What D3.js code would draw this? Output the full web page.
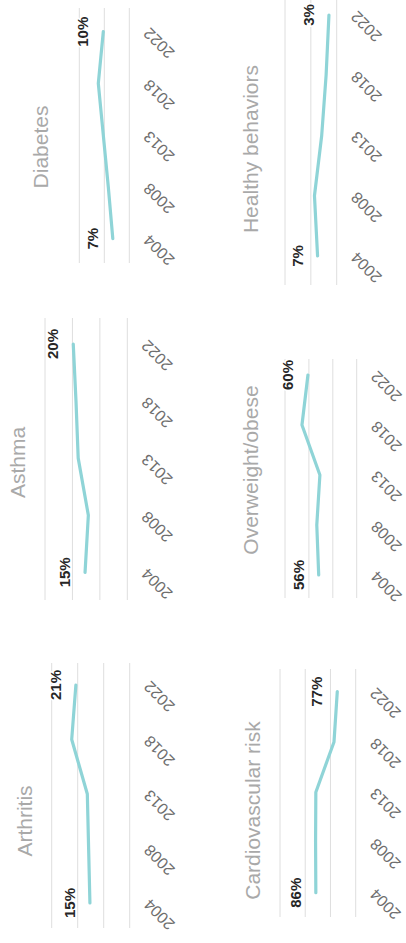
<!DOCTYPE html>
<html>
<head>
<meta charset="utf-8">
<script src="https://cdn.jsdelivr.net/npm/d3@7"></script>
<style>
  html, body { margin: 0; padding: 0; background: #ffffff; }
  svg { display: block; }
</style>
</head>
<body>
<div id="chart"></div>
<script>
// Small multiples of health indicators, drawn sideways (page is rotated -90deg)

// Data
const years = ["2004", "2008", "2013", "2018", "2022"];
const titles = ["Arthritis", "Asthma", "Diabetes", "Cardiovascular risk", "Overweight/obese", "Healthy behaviors"];

const arthritis = [15.3, 15.8, 16.3, 22.3, 20.7];
const asthma = [15.4, 14.2, 17.9, 18.7, 19.7];
const diabetes = [6.6, 8.4, 10.4, 12.4, 10.4];
const cardio = [85.8, 85.9, 85.8, 78.6, 77.3];
const overweight = [55.9, 56.7, 55.4, 62.9, 60.4];
const healthy = [7.4, 8.6, 5.8, 4.1, 3.0];

const series = [arthritis, asthma, diabetes, cardio, overweight, healthy];

const gridTicks = [
  [0, 10, 20, 30],
  [0, 10, 20, 30],
  [0, 10, 20],
  [70, 80, 90, 100],
  [40, 50, 60, 70],
  [0, 10, 20]
];

// Layout (in the unrotated 943 x 406 frame)
const W = 943;
const H = 406;

const layout = [
  { gx: [15, 280], px: [40, 258], py: [129.7, 51.7], tx: 122, ty: 32 },
  { gx: [343, 625], px: [370.7, 599], py: [127.3, 45], tx: 480.5, ty: 25 },
  { gx: [680, 935], px: [704.3, 911.3], py: [129.3, 79.3], tx: 796, ty: 48 },
  { gx: [26, 274], px: [50.3, 251.3], py: [355.7, 280], tx: 132.5, ty: 260 },
  { gx: [345, 584], px: [368, 568], py: [356.7, 285], tx: 473, ty: 258 },
  { gx: [658, 960], px: [687, 928], py: [336.7, 285], tx: 794, ty: 258 }
];

const lineColor = "#8fd4d7";
const gridColor = "#dedede";
const font = "'Liberation Sans', Arial, Helvetica, sans-serif";

const svg = d3.select("#chart")
  .append("svg")
  .attr("width", H)
  .attr("height", W);

const root = svg.append("g")
  .attr("transform", `translate(0,${W}) rotate(-90)`);

function drawPanel(i) {
  const lay = layout[i];
  const values = series[i];
  const ticks = gridTicks[i];

  const x = d3.scalePoint()
    .domain(years)
    .range(lay.px);

  const y = d3.scaleLinear()
    .domain([ticks[0], ticks[ticks.length - 1]])
    .range(lay.py);

  const g = root.append("g");

  // Gridlines
  g.selectAll("line.grid")
    .data(ticks)
    .enter()
    .append("line")
    .attr("class", "grid")
    .attr("x1", lay.gx[0])
    .attr("x2", lay.gx[1])
    .attr("y1", d => y(d))
    .attr("y2", d => y(d))
    .attr("stroke", gridColor)
    .attr("stroke-width", 1);

  // Title
  g.append("text")
    .attr("x", lay.tx)
    .attr("y", lay.ty)
    .attr("text-anchor", "middle")
    .attr("font-family", font)
    .attr("font-size", "21px")
    .attr("fill", "#a9a9a9")
    .text(titles[i]);

  // Year labels
  g.selectAll("text.year")
    .data(years)
    .enter()
    .append("text")
    .attr("class", "year")
    .attr("transform", d => `translate(${x(d) + 5},${lay.py[0] + 21}) rotate(-45)`)
    .attr("text-anchor", "end")
    .attr("font-family", font)
    .attr("font-size", "16px")
    .attr("fill", "#6e6e6e")
    .text(d => d);

  // Line
  const line = d3.line()
    .x((d, j) => x(years[j]))
    .y(d => y(d));

  g.append("path")
    .datum(values)
    .attr("d", line)
    .attr("fill", "none")
    .attr("stroke", lineColor)
    .attr("stroke-width", 3.2)
    .attr("stroke-linecap", "round")
    .attr("stroke-linejoin", "round");

  // First / last value labels
  const ends = [0, values.length - 1];
  g.selectAll("text.val")
    .data(ends)
    .enter()
    .append("text")
    .attr("class", "val")
    .attr("x", j => x(years[j]))
    .attr("y", j => y(values[j]) - 15)
    .attr("text-anchor", "middle")
    .attr("font-family", font)
    .attr("font-size", "15px")
    .attr("font-weight", "bold")
    .attr("fill", "#262626")
    .attr("stroke", "#ffffff")
    .attr("stroke-width", 3)
    .attr("paint-order", "stroke")
    .text(j => Math.round(values[j]) + "%");
}

for (let i = 0; i < series.length; i++) {
  drawPanel(i);
}
</script>
</body>
</html>
